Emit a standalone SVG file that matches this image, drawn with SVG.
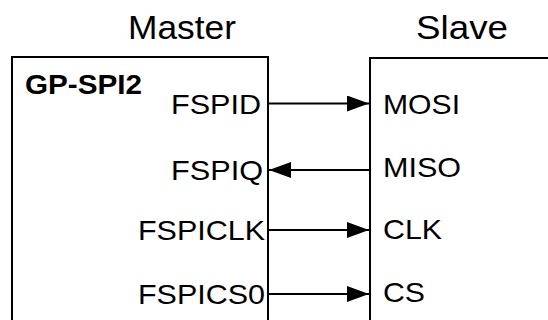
<svg xmlns="http://www.w3.org/2000/svg" width="548" height="320" viewBox="0 0 548 320">
  <style>
    .box { fill: #ffffff; stroke: #000000; stroke-width: 2; }
    .title { font-family: "Liberation Sans", Arial, sans-serif; font-size: 33px; fill: #000000; }
    .pin { font-family: "Liberation Sans", Arial, sans-serif; font-size: 28px; fill: #000000; }
    .name { font-family: "Liberation Sans", Arial, sans-serif; font-size: 28px; font-weight: bold; fill: #000000; }
    .wire { stroke: #000000; stroke-width: 2; fill: none; marker-end: url(#head); }
  </style>
  <defs>
    <marker id="head" markerUnits="userSpaceOnUse" markerWidth="22" markerHeight="16" refX="22" refY="8" orient="auto">
      <path d="M0,0 L22,8 L0,16 z" fill="#000000"/>
    </marker>
  </defs>
  <rect width="548" height="320" fill="#ffffff"/>

  <g id="master">
    <text class="title" x="128" y="38.5" textLength="108" lengthAdjust="spacingAndGlyphs">Master</text>
    <rect class="box" x="12" y="57" width="256" height="280"/>
    <text class="name" x="25" y="93.5" textLength="117" lengthAdjust="spacingAndGlyphs">GP-SPI2</text>
    <text class="pin" x="171" y="113.5" textLength="90" lengthAdjust="spacingAndGlyphs">FSPID</text>
    <text class="pin" x="171" y="180" textLength="92" lengthAdjust="spacingAndGlyphs">FSPIQ</text>
    <text class="pin" x="138" y="240" textLength="127" lengthAdjust="spacingAndGlyphs">FSPICLK</text>
    <text class="pin" x="138" y="304" textLength="127" lengthAdjust="spacingAndGlyphs">FSPICS0</text>
  </g>

  <g id="slave">
    <text class="title" x="416" y="38.5" textLength="92" lengthAdjust="spacingAndGlyphs">Slave</text>
    <rect class="box" x="370" y="58" width="200" height="280"/>
    <text class="pin" x="383" y="113.5" textLength="77" lengthAdjust="spacingAndGlyphs">MOSI</text>
    <text class="pin" x="383" y="177" textLength="78" lengthAdjust="spacingAndGlyphs">MISO</text>
    <text class="pin" x="383" y="238.5" textLength="59" lengthAdjust="spacingAndGlyphs">CLK</text>
    <text class="pin" x="383" y="302" textLength="42" lengthAdjust="spacingAndGlyphs">CS</text>
  </g>

  <g id="connectors">
    <line class="wire" x1="268" y1="103.5" x2="369" y2="103.5"/>
    <line class="wire" x1="370" y1="170" x2="269" y2="170"/>
    <line class="wire" x1="268" y1="230" x2="369" y2="230"/>
    <line class="wire" x1="268" y1="294" x2="369" y2="294"/>
  </g>
</svg>
